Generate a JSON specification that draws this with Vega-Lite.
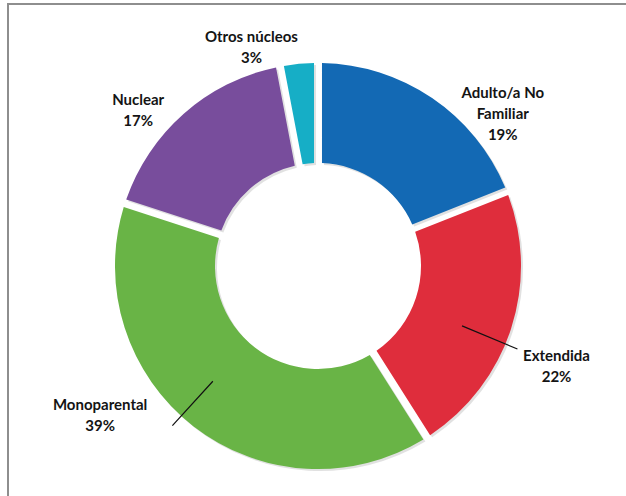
{
  "$schema": "https://vega.github.io/schema/vega-lite/v6.json",
  "width": 618,
  "height": 492,
  "autosize": {"type": "none"},
  "padding": {"left": 8, "top": 4, "right": 0, "bottom": 0},
  "background": "white",
  "view": {"stroke": "#8e8e8e", "strokeWidth": 2, "strokeDash": [618, 1110, 492]},
  "data": {"values": [
    {"categoria": "Adulto/a No Familiar", "pct": 19, "orden": 1},
    {"categoria": "Extendida", "pct": 22, "orden": 2},
    {"categoria": "Monoparental", "pct": 39, "orden": 3},
    {"categoria": "Nuclear", "pct": 17, "orden": 4},
    {"categoria": "Otros núcleos", "pct": 3, "orden": 5}
  ]},
  "transform": [
    {"window": [{"op": "sum", "field": "pct", "as": "fin"}], "sort": [{"field": "orden"}], "frame": [null, 0]},
    {"calculate": "datum.fin - datum.pct", "as": "inicio"},
    {"calculate": "datum.fin - datum.pct / 2", "as": "medio"},
    {"calculate": "datum.categoria === 'Adulto/a No Familiar' ? ['Adulto/a No', 'Familiar', datum.pct + '%'] : [datum.categoria, datum.pct + '%']", "as": "etiqueta"}
  ],
  "layer": [
    {
      "mark": {"type": "arc", "radius": 203, "radius2": 103, "padAngle": 0.035, "xOffset": 3, "yOffset": 18, "color": "#bdbdbd", "opacity": 0.45},
      "encoding": {
        "theta": {"field": "inicio", "type": "quantitative", "stack": null, "scale": {"domain": [0, 100]}},
        "theta2": {"field": "fin"}
      }
    },
    {
      "mark": {"type": "arc", "radius": 203, "radius2": 103, "padAngle": 0.035, "xOffset": 1, "yOffset": 16},
      "encoding": {
        "theta": {"field": "inicio", "type": "quantitative", "stack": null, "scale": {"domain": [0, 100]}},
        "theta2": {"field": "fin"},
        "color": {"field": "categoria", "type": "nominal", "legend": null,
          "scale": {"domain": ["Adulto/a No Familiar", "Extendida", "Monoparental", "Nuclear", "Otros núcleos"],
                    "range": ["#1369b4", "#df2d3c", "#69b446", "#784d9c", "#16aec6"]}}
      }
    },
    {
      "transform": [{"filter": "datum.categoria === 'Extendida' || datum.categoria === 'Monoparental'"}],
      "mark": {"type": "arc", "radius": 216, "radius2": 156, "thetaOffset": 0.08, "theta2Offset": 0.08, "stroke": "#111111", "strokeWidth": 1.2, "fillOpacity": 0, "xOffset": 1, "yOffset": 16},
      "encoding": {
        "theta": {"field": "medio", "type": "quantitative", "stack": null, "scale": {"domain": [0, 100]}},
        "theta2": {"field": "medio"}
      }
    },
    {
      "transform": [{"filter": "datum.categoria === 'Otros núcleos'"}],
      "mark": {"type": "text", "radius": 228, "thetaOffset": -0.202, "xOffset": 1, "yOffset": 16, "dy": -10.5, "font": "Lato", "fontWeight": "bold", "fontSize": 15, "lineHeight": 21, "align": "center", "baseline": "middle", "color": "#141414"},
      "encoding": {"theta": {"field": "medio", "type": "quantitative", "stack": null, "scale": {"domain": [0, 100]}}, "text": {"field": "etiqueta"}}
    },
    {
      "transform": [{"filter": "datum.categoria === 'Nuclear'"}],
      "mark": {"type": "text", "radius": 238, "thetaOffset": -0.134, "xOffset": 1, "yOffset": 16, "dy": -10.5, "font": "Lato", "fontWeight": "bold", "fontSize": 15, "lineHeight": 21, "align": "center", "baseline": "middle", "color": "#141414"},
      "encoding": {"theta": {"field": "medio", "type": "quantitative", "stack": null, "scale": {"domain": [0, 100]}}, "text": {"field": "etiqueta"}}
    },
    {
      "transform": [{"filter": "datum.categoria === 'Adulto/a No Familiar'"}],
      "mark": {"type": "text", "radius": 237, "thetaOffset": 0.277, "xOffset": 4, "yOffset": 16, "dy": -21, "font": "Lato", "fontWeight": "bold", "fontSize": 15, "lineHeight": 21, "align": "center", "baseline": "middle", "color": "#141414"},
      "encoding": {"theta": {"field": "medio", "type": "quantitative", "stack": null, "scale": {"domain": [0, 100]}}, "text": {"field": "etiqueta"}}
    },
    {
      "transform": [{"filter": "datum.categoria === 'Extendida'"}],
      "mark": {"type": "text", "radius": 259, "thetaOffset": 0.086, "xOffset": 1, "yOffset": 16, "dy": -10.5, "font": "Lato", "fontWeight": "bold", "fontSize": 15, "lineHeight": 21, "align": "center", "baseline": "middle", "color": "#141414"},
      "encoding": {"theta": {"field": "medio", "type": "quantitative", "stack": null, "scale": {"domain": [0, 100]}}, "text": {"field": "etiqueta"}}
    },
    {
      "transform": [{"filter": "datum.categoria === 'Monoparental'"}],
      "mark": {"type": "text", "radius": 264, "thetaOffset": 0.311, "xOffset": 1, "yOffset": 16, "dy": -10.5, "font": "Lato", "fontWeight": "bold", "fontSize": 15, "lineHeight": 21, "align": "center", "baseline": "middle", "color": "#141414"},
      "encoding": {"theta": {"field": "medio", "type": "quantitative", "stack": null, "scale": {"domain": [0, 100]}}, "text": {"field": "etiqueta"}}
    }
  ]
}
